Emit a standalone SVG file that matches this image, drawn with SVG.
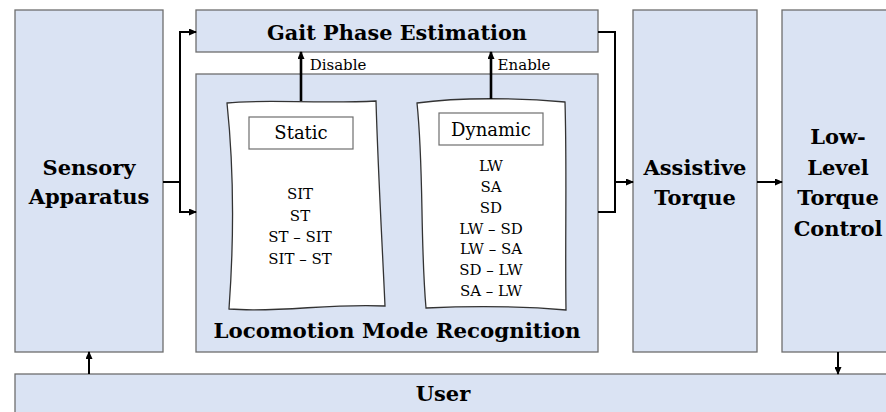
<svg xmlns="http://www.w3.org/2000/svg" width="886" height="412" viewBox="0 0 886 412">
<defs>
<marker id="ah" markerUnits="userSpaceOnUse" markerWidth="8" markerHeight="7" refX="7" refY="3.5" orient="auto">
<path d="M0,0 L8,3.5 L0,7 z" fill="#000"/>
</marker>
<style>
.box{fill:#dae3f3;stroke:#6e6e6e;stroke-width:1.3}
.doc{fill:#fff;stroke:#333;stroke-width:1.3}
.lbl{fill:#fff;stroke:#6e6e6e;stroke-width:1.2}
text{font-family:'DejaVu Serif','Liberation Serif',serif}
.t{fill:#000;text-anchor:middle}
.b{font-weight:bold;font-size:21px}
.s{font-size:15px}
.m{font-size:18px}
.c{fill:none;stroke:#000;stroke-width:2}
.c2{fill:none;stroke:#000;stroke-width:2.6}
</style>
</defs>
<rect width="886" height="412" fill="#fff"/>

<g id="sensory">
<rect class="box" x="15" y="10" width="148" height="342"/>
<text class="t b" x="89" y="175">Sensory</text>
<text class="t b" x="89" y="204">Apparatus</text>
</g>

<g id="gait">
<rect class="box" x="196" y="10" width="402" height="42"/>
<text class="t b" x="397" y="40" textLength="260" lengthAdjust="spacingAndGlyphs" style="font-size:21px">Gait Phase Estimation</text>
</g>

<g id="lmr">
<rect class="box" x="196" y="74" width="402" height="278"/>
<text class="t b" x="397" y="338" textLength="367" lengthAdjust="spacingAndGlyphs" style="font-size:21px">Locomotion Mode Recognition</text>
</g>

<g id="static">
<path class="doc" d="M227 103 C260 99 320 104 376 101 C378 170 382 240 385 306 C330 303 280 313 229 309 C234 240 234 170 227 103 Z"/>
<rect class="lbl" x="249" y="117" width="104" height="32"/>
<text class="t m" x="301" y="139">Static</text>
<text class="t s" x="300" y="199">SIT</text>
<text class="t s" x="300" y="220.5">ST</text>
<text class="t s" x="300" y="242">ST – SIT</text>
<text class="t s" x="300" y="263.5">SIT – ST</text>
</g>

<g id="dynamic">
<path class="doc" d="M417 103 C460 97 520 98 565 102 C567 170 565 240 566 310 C520 306 470 306 426 308 C420 240 424 170 417 103 Z"/>
<rect class="lbl" x="439" y="113" width="104" height="32"/>
<text class="t m" x="491" y="136">Dynamic</text>
<text class="t s" x="491" y="171">LW</text>
<text class="t s" x="491" y="192">SA</text>
<text class="t s" x="491" y="213">SD</text>
<text class="t s" x="491" y="234">LW – SD</text>
<text class="t s" x="491" y="254">LW – SA</text>
<text class="t s" x="491" y="275">SD – LW</text>
<text class="t s" x="491" y="296">SA – LW</text>
</g>

<g id="assistive">
<rect class="box" x="633" y="10" width="124" height="342"/>
<text class="t b" x="695" y="175">Assistive</text>
<text class="t b" x="695" y="205">Torque</text>
</g>

<g id="lowlevel">
<rect class="box" x="782" y="10" width="110" height="342"/>
<text class="t b" x="838" y="144">Low-</text>
<text class="t b" x="838" y="175">Level</text>
<text class="t b" x="838" y="205">Torque</text>
<text class="t b" x="838" y="236">Control</text>
</g>

<g id="user">
<rect class="box" x="15" y="374" width="880" height="50"/>
<text class="t b" x="443" y="401">User</text>
</g>

<g id="connectors">
<path class="c" d="M163 182 H180 V32 H196" marker-end="url(#ah)"/>
<path class="c" d="M180 182 V212 H196" marker-end="url(#ah)"/>
<path class="c" d="M598 32 H615 V182 H633" marker-end="url(#ah)"/>
<path class="c" d="M598 212 H615 V182"/>
<path class="c" d="M757 182 H782" marker-end="url(#ah)"/>
<path class="c" d="M89 374 V352" marker-end="url(#ah)"/>
<path class="c" d="M838 352 V374" marker-end="url(#ah)"/>
<path class="c2" d="M301 101 V52" marker-end="url(#ah)"/>
<path class="c2" d="M491 99 V52" marker-end="url(#ah)"/>
<text class="t" x="338" y="70" style="font-size:15px">Disable</text>
<text class="t" x="524" y="70" style="font-size:15px">Enable</text>
</g>
</svg>
